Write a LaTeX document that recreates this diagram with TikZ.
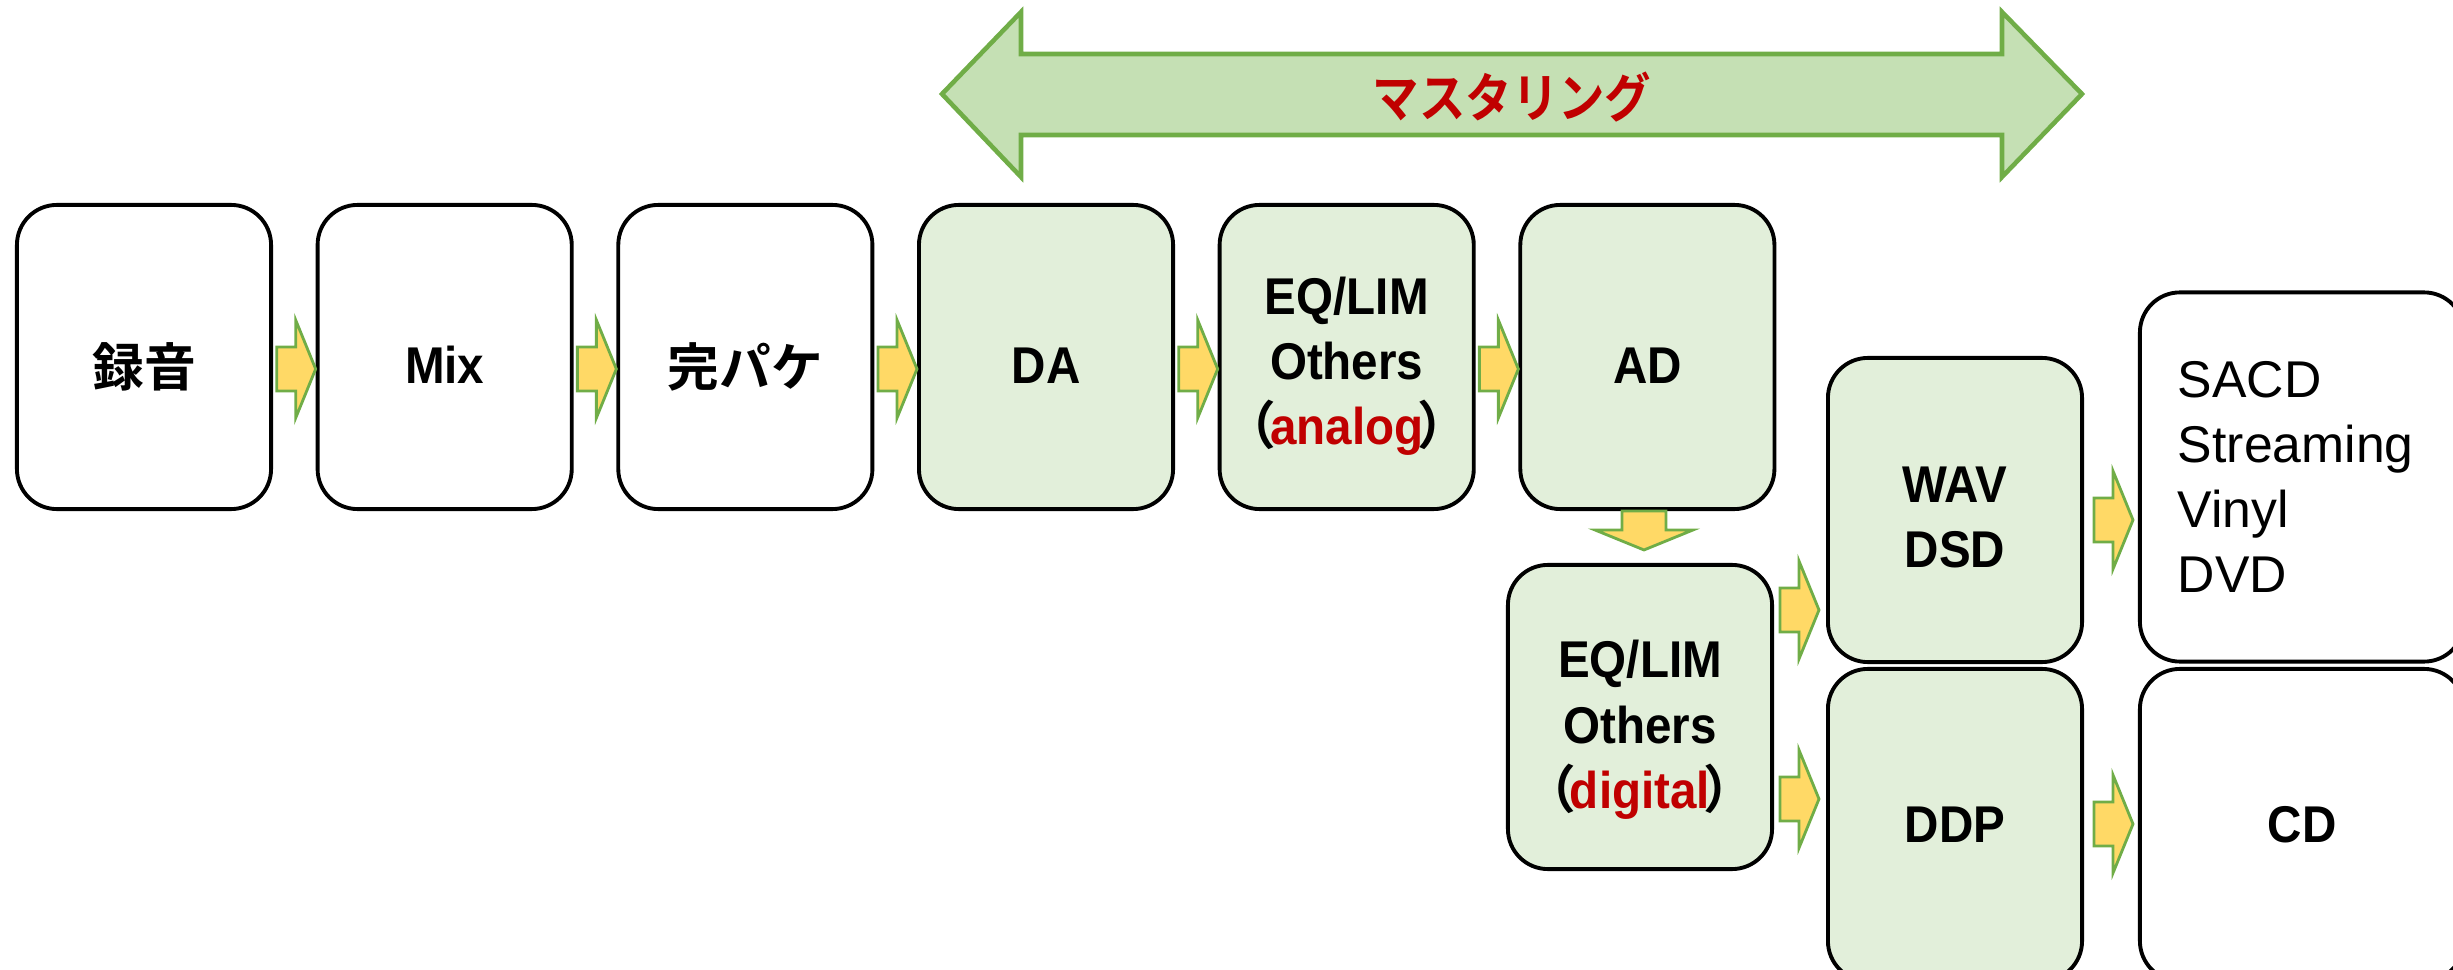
\documentclass[tikz,border=0pt]{standalone}
\usepackage{fontspec}
\setmainfont{Liberation Sans}[BoldFeatures={FakeStretch=0.92}]
\newfontfamily\jp{Noto Sans CJK JP}[BoldFont=* Bold]
\newfontfamily\jpnarrow{Noto Sans CJK JP}[BoldFont=* Bold, BoldFeatures={FakeStretch=0.88}]
\usetikzlibrary{calc}
\usetikzlibrary{positioning}
\definecolor{boxgreen}{HTML}{E2EFDA}
\definecolor{bannergreen}{HTML}{C5E0B4}
\definecolor{edgegreen}{HTML}{70AD47}
\definecolor{arrowyellow}{HTML}{FFD966}
\definecolor{darkred}{HTML}{C00000}
\newcommand{\paren}[1]{{\jp\kern-0.4em（\kern-0.12em}{\color{darkred}#1}{\jp\kern-0.12em）\kern-0.4em}}
\tikzset{
	stage/.style={draw, line width=1.1pt, rounded corners=0.4cm, minimum width=2.54cm, minimum height=3.04cm, align=center, fill=white, font={\fontsize{14.7pt}{18.5pt}\selectfont\bfseries}},
	mastered/.style={stage, fill=boxgreen},
	arrowline/.style={draw=edgegreen, fill=arrowyellow, line width=0.8pt},
	pics/fatarrow/.style={code={\draw[arrowline] (-39,-22) -- (-20,-22) -- (-20,-49) -- (0,0) -- (-20,49) -- (-20,22) -- (-39,22) -- cycle;}},
}
\begin{document}
\begin{tikzpicture}[x=0.01cm, y=-0.01cm]
	\useasboundingbox (0,0) rectangle (2453,970);
	\draw[draw=edgegreen, fill=bannergreen, line width=1.3pt] (942,94) -- (1021,12) -- (1021,54) -- (2002,54) -- (2002,12) -- (2082,94) -- (2002,177) -- (2002,135) -- (1021,135) -- (1021,177) -- cycle;
	\node[font={\jpnarrow\bfseries\fontsize{15pt}{18pt}\selectfont}, text=darkred] (mastering) at (1512,97) {マスタリング};
	
	\node[stage, text height=0.63cm] (rec) at (144,357) {\jp 録音};
	\node[stage, on grid, right=3.005cm of rec, text height=0.53cm] (mix) {Mix};
	\node[stage, on grid, right=3.005cm of mix, text height=0.63cm] (pack) {\jp 完パケ};
	\node[mastered, on grid, right=3.005cm of pack, text height=0.53cm] (da) {DA};
	\node[mastered, on grid, right=3.005cm of da, text height=1.86cm] (eqa) {EQ/LIM\\Others\\\paren{analog}};
	\node[mastered, on grid, right=3.005cm of eqa, text height=0.53cm] (ad) {AD};
	\node[mastered, minimum width=2.64cm, text height=1.93cm] (eqd) at (1640,717) {EQ/LIM\\Others\\\paren{digital}};
	\node[mastered, text height=1.15cm] (wav) at (1955,510) {WAV\\DSD};
	\node[mastered, minimum height=3.12cm] (ddp) at (1955,825) {DDP};
	\node[stage, minimum width=3.24cm, minimum height=3.69cm, text width=2.48cm, align=left, font={\fontsize{14.7pt}{18.5pt}\selectfont}] (sacd) at (2302,477) {SACD\\Streaming\\Vinyl\\DVD};
	\node[stage, minimum width=3.24cm, minimum height=3.12cm] (cd) at (2302,825) {CD};
	
	\foreach \b in {mix,pack,da,eqa,ad}
		\pic at ($(\b.west)+(0,12)$) {fatarrow};
	\pic[rotate=-90] at ($(eqd.north)+(4,-13)$) {fatarrow};
	\pic at ($(wav.west)+(-7,100)$) {fatarrow};
	\pic at ($(ddp.west)+(-7,-26)$) {fatarrow};
	\pic at ($(wav.east)+(49,10)$) {fatarrow};
	\pic at ($(ddp.east)+(49,-1)$) {fatarrow};
\end{tikzpicture}
\end{document}
